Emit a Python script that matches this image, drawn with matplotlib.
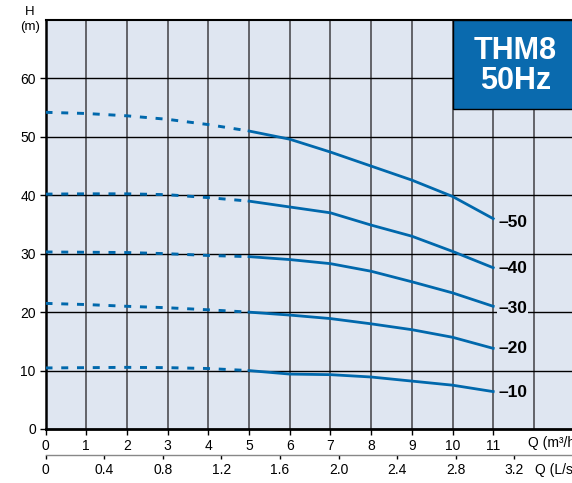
import matplotlib
matplotlib.use("Agg")
import matplotlib.pyplot as plt
from matplotlib.patches import Rectangle

plt.rcParams['font.family'] = ['Liberation Sans', 'DejaVu Sans']

# flow in m3/h and head in m
q = [0, 1, 2, 3, 4, 5, 6, 7, 8, 9, 10, 11]
h50 = [54.2, 54.0, 53.6, 53.0, 52.1, 51.0, 49.6, 47.4, 45.0, 42.6, 39.8, 36.0]
h40 = [40.2, 40.25, 40.25, 40.1, 39.6, 39.0, 38.0, 37.0, 34.9, 33.0, 30.4, 27.6]
h30 = [30.3, 30.25, 30.2, 30.0, 29.7, 29.5, 29.0, 28.3, 27.0, 25.2, 23.3, 21.0]
h20 = [21.5, 21.3, 21.0, 20.75, 20.4, 20.0, 19.5, 18.9, 18.0, 17.0, 15.7, 13.8]
h10 = [10.45, 10.5, 10.55, 10.5, 10.35, 10.0, 9.4, 9.3, 8.9, 8.2, 7.5, 6.4]
curves = [h50, h40, h30, h20, h10]
curve_labels = ['–50', '–40', '–30', '–20', '–10']
label_y = [35.4, 27.4, 20.7, 13.7, 6.3]

x_ticks = list(range(0, 12))
y_ticks = [0, 10, 20, 30, 40, 50, 60]
ls_ticks = [0, 0.4, 0.8, 1.2, 1.6, 2.0, 2.4, 2.8, 3.2]
ls_labels = ['0', '0.4', '0.8', '1.2', '1.6', '2.0', '2.4', '2.8', '3.2']

blue = '#0068AC'
bg = '#DFE6F1'

W, H = 572, 483
fig = plt.figure(figsize=(W / 100, H / 100), dpi=100)
left, top, bottom = 45.5, 20, 429
ax = fig.add_axes([left / W, (H - bottom) / H, 1 - left / W, (bottom - top) / H])
ax.set_facecolor(bg)
ax.set_xlim(0, (W - left) / 40.7)
ax.set_ylim(0, 70)

# grid
for v in range(1, 14):
    ax.axvline(v, color='#4d4d52', lw=1.2, zorder=1)
for v in y_ticks[1:]:
    ax.axhline(v, color='black', lw=1.0, zorder=1)

# curves: dashed below 5 m3/h, solid from 5 on
for h in curves:
    ax.plot(q[:6], h[:6], color=blue, lw=2.1, dashes=(2.4, 3.0), zorder=3)
    ax.plot(q[5:], h[5:], color=blue, lw=2.0, zorder=3)

for txt, y in zip(curve_labels, label_y):
    ax.text(11.12, y, txt, fontsize=12.5, fontweight='bold', ha='left', va='center', zorder=4,
            bbox=dict(facecolor=bg, edgecolor='none', pad=0.5))

# title box
ax.add_patch(Rectangle((10, 54.7), 4, 15.3, facecolor='#0A6AAE', edgecolor='black', lw=1.0, zorder=5))
ax.text(11.54, 62.2, 'THM8\n50Hz', color='white', fontsize=22, fontweight='bold',
        ha='center', va='center', linespacing=1.0, zorder=6)

ax.spines['right'].set_visible(False)
ax.spines['left'].set_linewidth(1.8)
ax.spines['bottom'].set_linewidth(2.0)
ax.spines['top'].set_linewidth(1.5)

ax.set_xticks(x_ticks)
ax.set_yticks(y_ticks)
ax.tick_params(axis='both', labelsize=10, length=4, width=1, pad=3)

# second axis in L/s
sec = ax.secondary_xaxis(-0.0636, functions=(lambda x: x / 3.6, lambda x: x * 3.6))
sec.set_xticks(ls_ticks)
sec.set_xticklabels(ls_labels)
sec.spines['bottom'].set_color('#888888')
sec.spines['bottom'].set_linewidth(1.0)
sec.tick_params(labelsize=10, length=3, width=1, pad=3)

# axis names run off the right edge, as in the original sheet
fig.text(528 / W, 1 - 443 / H, 'Q (m³/h)', fontsize=10, va='center', ha='left')
fig.text(535 / W, 1 - 470 / H, 'Q (L/s)', fontsize=10, va='center', ha='left')
fig.text(30 / W, 1 - 12 / H, 'H', fontsize=9.5, va='center', ha='center')
fig.text(30 / W, 1 - 27 / H, '(m)', fontsize=9.5, va='center', ha='center')

fig.savefig('out.png', dpi=100)
